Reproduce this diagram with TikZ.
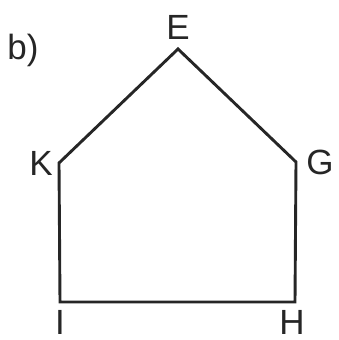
\documentclass[tikz,border=0pt]{standalone}
\usepackage{fontspec}
\setmainfont{Liberation Sans}
\begin{document}
\begin{tikzpicture}[x=1pt,y=-1pt,
  lbl/.style={font=\fontsize{35}{40}\selectfont, inner sep=0pt, text=black!85},
  edge/.style={line width=2.9pt, line join=miter, black!85}]
\useasboundingbox (0,0) rectangle (339,340);
\coordinate (E) at (178,49);
\coordinate (K) at (59,163);
\coordinate (G) at (296,162);
\coordinate (I) at (60,302);
\coordinate (H) at (295,302);
\draw[edge] (E) -- (G) -- (H) -- (I) -- (K) -- cycle;
\node[lbl] (lE) at (178,27) {E};
\node[lbl] (lK) at (41,163) {K};
\node[lbl] (lG) at (320,162) {G};
\node[lbl] (lI) at (60,322) {I};
\node[lbl] (lH) at (292,322) {H};
\node[lbl] (lb) at (23,50) {b)};
\end{tikzpicture}
\end{document}
